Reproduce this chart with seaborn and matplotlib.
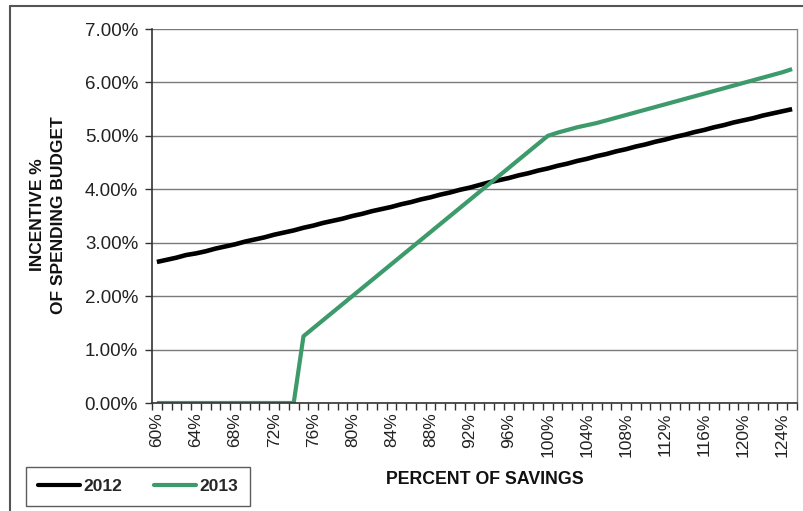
import matplotlib
matplotlib.use("Agg")
import matplotlib.pyplot as plt
from matplotlib.lines import Line2D
from matplotlib.ticker import FixedLocator, FuncFormatter
import seaborn as sns
import pandas as pd

# Percent of savings (category axis)
savings_pct = list(range(60, 126))

# Incentive as % of spending budget
incentive_2012 = [
    2.64, 2.68, 2.72, 2.77, 2.80, 2.84, 2.89, 2.93, 2.97, 3.02,
    3.06, 3.10, 3.15, 3.19, 3.23, 3.28, 3.32, 3.37, 3.41, 3.45,
    3.50, 3.54, 3.59, 3.63, 3.67, 3.72, 3.76, 3.81, 3.85, 3.90,
    3.94, 3.99, 4.03, 4.08, 4.13, 4.17, 4.21, 4.26, 4.30, 4.35,
    4.39, 4.44, 4.48, 4.53, 4.57, 4.62, 4.66, 4.71, 4.75, 4.80,
    4.84, 4.89, 4.93, 4.98, 5.02, 5.07, 5.11, 5.16, 5.20, 5.25,
    5.29, 5.33, 5.38, 5.42, 5.46, 5.50,
]
incentive_2013 = [
    0.00, 0.00, 0.00, 0.00, 0.00, 0.00, 0.00, 0.00, 0.00, 0.00,
    0.00, 0.00, 0.00, 0.00, 0.00, 1.25, 1.40, 1.55, 1.70, 1.85,
    2.00, 2.15, 2.30, 2.45, 2.60, 2.75, 2.90, 3.05, 3.20, 3.35,
    3.50, 3.65, 3.80, 3.95, 4.10, 4.25, 4.40, 4.55, 4.70, 4.85,
    5.00, 5.06, 5.11, 5.16, 5.20, 5.24, 5.29, 5.34, 5.39, 5.44,
    5.49, 5.54, 5.59, 5.64, 5.69, 5.74, 5.79, 5.84, 5.89, 5.94,
    5.99, 6.04, 6.09, 6.14, 6.19, 6.25,
]
series_names = ["2012", "2013"]
series_colors = ["#000000", "#3d9a6b"]
y_ticks = [0, 1, 2, 3, 4, 5, 6, 7]

idx = list(range(len(savings_pct)))
df = pd.concat([
    pd.DataFrame({"idx": idx, "value": incentive_2012, "year": series_names[0]}),
    pd.DataFrame({"idx": idx, "value": incentive_2013, "year": series_names[1]}),
])

sns.set_style("white")
plt.rcParams["font.family"] = ["Liberation Sans", "DejaVu Sans"]

fig = plt.figure(figsize=(8.04, 5.11), dpi=100)
ax = fig.add_axes([152 / 804, 1 - 403 / 511, (797 - 152) / 804, (403 - 29) / 511])

palette = dict(zip(series_names, series_colors))
sns.lineplot(data=df, x="idx", y="value", hue="year", palette=palette,
             ax=ax, legend=False, linewidth=3.0)
for line, lw in zip(ax.get_lines(), [3.3, 3.0]):
    line.set_linewidth(lw)
    line.set_solid_capstyle("butt")
    line.set_solid_joinstyle("round")

ax.set_xlim(-0.5, len(savings_pct) - 0.5)
ax.set_ylim(0, 7)

# Horizontal gridlines
ax.yaxis.set_major_locator(FixedLocator(y_ticks))
ax.yaxis.set_major_formatter(FuncFormatter(lambda v, p: f"{v:.2f}%"))
ax.grid(axis="y", color="#7a7a7a", linewidth=1.0)
ax.grid(axis="x", visible=False)
ax.set_axisbelow(True)

# Category labels every 4%, tick marks between categories
label_pos = [i for i in idx if savings_pct[i] % 4 == 0]
ax.set_xticks(label_pos)
ax.set_xticklabels([f"{savings_pct[i]}%" for i in label_pos], rotation=90,
                   fontsize=12.5, color="#222222")
ax.set_xticks([i - 0.5 for i in range(len(savings_pct) + 1)], minor=True)
ax.tick_params(axis="x", which="major", length=0, pad=7)
ax.tick_params(axis="x", which="minor", length=5, width=1.0, color="#333333",
               direction="out", bottom=True)
ax.tick_params(axis="y", which="major", length=5, width=1.0, color="#333333",
               direction="out", left=True, labelsize=13.5, labelcolor="#222222", pad=5)

for side in ["left", "bottom"]:
    ax.spines[side].set_color("#333333")
    ax.spines[side].set_linewidth(1.2)
ax.spines["right"].set_color("#8a8a8a")
ax.spines["right"].set_linewidth(1.0)
ax.spines["top"].set_visible(False)

ax.set_xlabel("")
ax.set_ylabel("")
fig.text(48 / 804, 1 - 215 / 511, "INCENTIVE %\nOF SPENDING BUDGET", rotation=90,
         ha="center", va="center", fontsize=12.5, fontweight="bold",
         color="#111111", linespacing=1.45)
fig.text(485 / 804, 1 - 480 / 511, "PERCENT OF SAVINGS", ha="center", va="center",
         fontsize=12.8, fontweight="bold", color="#111111")

# Legend box in the lower-left corner
handles = [Line2D([0], [0], color=c, linewidth=3) for c in series_colors]
leg = fig.legend(handles, series_names, loc="lower left",
                 bbox_to_anchor=(26 / 804, 1 - 506 / 511, (250 - 26) / 804, 40 / 511),
                 mode="expand", ncol=2, frameon=True, fancybox=False,
                 handlelength=2.4, handletextpad=0.2, borderaxespad=0,
                 prop={"weight": "bold", "size": 12.5}, borderpad=0.7)
leg.get_frame().set_edgecolor("#333333")
leg.get_frame().set_linewidth(1.0)

# Chart-area border
fig.add_artist(Line2D([10 / 804, 10 / 804], [0, 1 - 6 / 511], transform=fig.transFigure,
                      color="#555555", linewidth=1.5))
fig.add_artist(Line2D([10 / 804, 1], [1 - 6 / 511, 1 - 6 / 511], transform=fig.transFigure,
                      color="#555555", linewidth=1.5))

fig.savefig("out.png", dpi=100, facecolor="white")
